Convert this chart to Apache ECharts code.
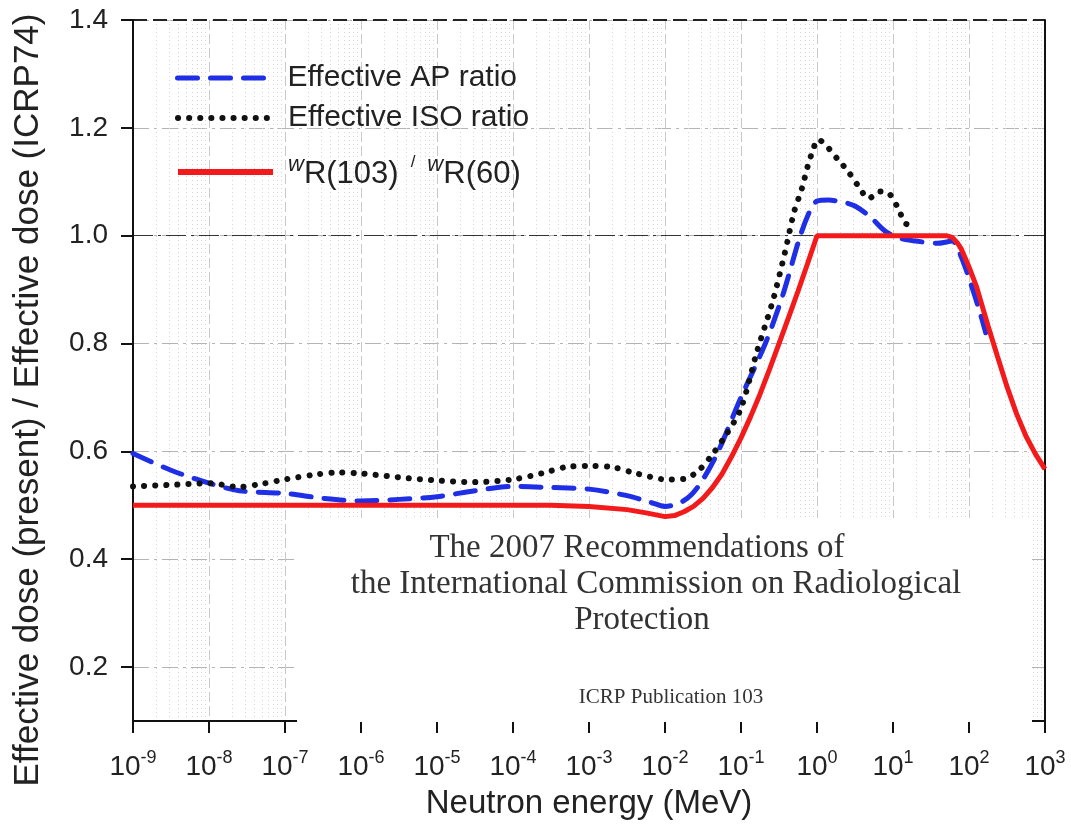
<!DOCTYPE html>
<html><head><meta charset="utf-8">
<script src="https://cdn.jsdelivr.net/npm/echarts@6/dist/echarts.min.js"></script>
<style>html,body{margin:0;padding:0;background:#fff}#c{width:1071px;height:825px}</style>
</head><body><div id="c"></div>
<script>
// x values are log10 of neutron energy in MeV
const apLogE  = [-9, -8.5, -8, -7.6, -7, -6.5, -6, -5.5, -5, -4.5, -4, -3.5, -3, -2.5, -2.2, -2, -1.8, -1.65, -1.5, -1.3, -1.0, -0.68, -0.45, -0.22, -0.08, 0, 0.15, 0.35, 0.5, 0.7, 0.9, 1.1, 1.3, 1.6, 1.78, 1.9, 2.05, 2.15, 2.22];
const apRatio = [0.596, 0.565, 0.541, 0.527, 0.522, 0.513, 0.508, 0.511, 0.516, 0.527, 0.535, 0.533, 0.530, 0.518, 0.506, 0.498, 0.505, 0.520, 0.548, 0.600, 0.700, 0.800, 0.890, 1.000, 1.050, 1.064, 1.066, 1.062, 1.055, 1.035, 1.008, 0.995, 0.990, 0.986, 0.990, 0.960, 0.900, 0.855, 0.820];

const isoLogE  = [-9, -8.5, -8, -7.6, -7.3, -7, -6.6, -6.3, -6, -5.5, -5, -4.5, -4, -3.6, -3.3, -3.0, -2.7, -2.4, -2.2, -2.0, -1.75, -1.57, -1.4, -1.2, -1.0, -0.79, -0.58, -0.42, -0.3, -0.2, -0.12, -0.05, 0.01, 0.29, 0.42, 0.55, 0.68, 0.83, 0.95, 1.08, 1.16, 1.28];
const isoRatio = [0.535, 0.538, 0.541, 0.534, 0.540, 0.548, 0.557, 0.561, 0.559, 0.552, 0.546, 0.543, 0.548, 0.560, 0.571, 0.573, 0.571, 0.560, 0.553, 0.548, 0.549, 0.563, 0.590, 0.630, 0.680, 0.785, 0.880, 0.970, 1.045, 1.087, 1.130, 1.160, 1.178, 1.139, 1.117, 1.091, 1.069, 1.082, 1.078, 1.047, 1.023, 1.019];

const wrLogE  = [-9, -8, -7, -6, -5, -4, -3.5, -3, -2.5, -2.25, -2, -1.875, -1.75, -1.625, -1.5, -1.375, -1.25, -1.125, -1, -0.875, -0.75, -0.625, -0.5, -0.375, -0.25, -0.125, 0, 0.5, 1, 1.5, 1.7, 1.78, 1.85, 1.9, 2, 2.1, 2.25, 2.375, 2.5, 2.625, 2.75, 2.875, 3];
const wrRatio = [0.5, 0.5, 0.5, 0.5, 0.5, 0.5, 0.5, 0.498, 0.492, 0.486, 0.479, 0.481, 0.488, 0.498, 0.513, 0.533, 0.558, 0.590, 0.625, 0.664, 0.706, 0.752, 0.800, 0.848, 0.897, 0.948, 1.0, 1.0, 1.0, 1.0, 1.0, 0.997, 0.986, 0.975, 0.942, 0.905, 0.833, 0.776, 0.720, 0.670, 0.628, 0.595, 0.567];

const seriesNames = ['Effective AP ratio', 'Effective ISO ratio', 'wR(103) / wR(60)'];
const yTicks = [0.2, 0.4, 0.6, 0.8, 1.0, 1.2, 1.4];
const xDecades = [-9, -8, -7, -6, -5, -4, -3, -2, -1, 0, 1, 2, 3];

// minor grid positions (2..9 x 10^d) in log units
const minorGrid = [];
for (let i = 0; i < xDecades.length - 1; i++) {
  for (let k = 2; k <= 9; k++) minorGrid.push({ xAxis: xDecades[i] + Math.log10(k) });
}

const pairs = (xs, ys) => xs.map((x, i) => [x, ys[i]]);
const SANS = '"Liberation Sans", Arial, sans-serif';
const SERIF = '"Liberation Serif", "Times New Roman", serif';

const legendBase = {
  left: 175, padding: 0, itemWidth: 95, itemHeight: 14,
  itemStyle: { opacity: 0 },
  textStyle: { fontSize: 30, fontFamily: SANS, color: '#222', padding: [0, 0, 0, 10], lineHeight: 32 }
};

const chart = echarts.init(document.getElementById('c'));
chart.setOption({
  animation: false,
  backgroundColor: '#fff',
  grid: { left: 133, right: 26, top: 20, bottom: 100 },
  legend: [
    Object.assign({}, legendBase, { data: [seriesNames[0]], top: 62, lineStyle: { width: 5 } }),
    Object.assign({}, legendBase, { data: [seriesNames[1]], top: 102, lineStyle: { width: 6 } }),
    Object.assign({}, legendBase, {
      data: [seriesNames[2]], top: 154, lineStyle: { width: 6 },
      formatter: () => '{w|w}{r|R(103)}{sl|/}{w|w}{r|R(60)}',
      textStyle: {
        fontSize: 30, fontFamily: SANS, color: '#222', padding: [0, 0, 0, 10],
        rich: {
          w: { fontSize: 22, fontStyle: 'italic', fontFamily: SANS, color: '#222', verticalAlign: 'top', lineHeight: 22 },
          r: { fontSize: 31, fontFamily: SANS, color: '#222', lineHeight: 36, verticalAlign: 'bottom' },
          sl: { fontSize: 17, fontFamily: SANS, color: '#222', verticalAlign: 'top', lineHeight: 20, padding: [0, 12, 0, 12] }
        }
      }
    })
  ],
  xAxis: {
    type: 'value', min: -9, max: 3, interval: 1,
    name: 'Neutron energy (MeV)', nameLocation: 'middle', nameGap: 66,
    nameTextStyle: { fontSize: 33, fontFamily: SANS, color: '#222' },
    axisLine: { onZero: false, lineStyle: { color: '#111', width: 2 } },
    axisTick: { inside: false, length: 12, lineStyle: { color: '#111', width: 2 } },
    axisLabel: {
      margin: 28,
      formatter: v => '{b|10}{s|' + Math.round(v) + '}',
      rich: {
        b: { fontSize: 28, fontFamily: SANS, color: '#222', lineHeight: 36 },
        s: { fontSize: 18, fontFamily: SANS, color: '#222', lineHeight: 22, verticalAlign: 'top' }
      }
    },
    splitLine: { show: true, lineStyle: { color: '#c8c8c8', width: 1, type: [10, 4] } }
  },
  yAxis: [{
    type: 'value', min: 0.1, max: 1.4,
    axisLine: { onZero: false, lineStyle: { color: '#111', width: 2 } },
    axisTick: { inside: false, length: 12, customValues: yTicks, lineStyle: { color: '#111', width: 2 } },
    axisLabel: { customValues: yTicks, margin: 25, fontSize: 28, fontFamily: SANS, color: '#222', formatter: v => v.toFixed(1) },
    splitLine: { show: true, lineStyle: { color: '#b4b4b4', width: 1, type: [16, 5, 3, 5] } }
  }, {
    type: 'value', min: 0.1, max: 1.4, position: 'right',
    axisLine: { show: true, onZero: false, lineStyle: { color: '#111', width: 2 } },
    axisTick: { show: false }, axisLabel: { show: false }, splitLine: { show: false }
  }],
  graphic: [
    { type: 'rect', shape: { x: 297, y: 518, width: 735, height: 204 }, style: { fill: '#fff' }, z: 1, silent: true },
    { type: 'text', x: 637, y: 548, z: 1, style: { text: 'The 2007 Recommendations of', font: '33px ' + SERIF, fill: '#333', align: 'center', verticalAlign: 'middle' } },
    { type: 'text', x: 656, y: 584, z: 1, style: { text: 'the International Commission on Radiological', font: '33px ' + SERIF, fill: '#333', align: 'center', verticalAlign: 'middle' } },
    { type: 'text', x: 642, y: 620, z: 1, style: { text: 'Protection', font: '33px ' + SERIF, fill: '#333', align: 'center', verticalAlign: 'middle' } },
    { type: 'text', x: 671, y: 697, z: 1, style: { text: 'ICRP Publication 103', font: '21px ' + SERIF, fill: '#333', align: 'center', verticalAlign: 'middle' } },
    { type: 'text', x: 28, y: 400, rotation: Math.PI / 2, z: 1, style: { text: 'Effective dose (present) / Effective dose (ICRP74)', font: '35px ' + SANS, fill: '#222', align: 'center', verticalAlign: 'middle' } }
  ],
  series: [
    {
      name: 'gridlines', type: 'line', data: [], silent: true,
      markLine: {
        silent: true, symbol: ['none', 'none'], z: 0, label: { show: false },
        lineStyle: { color: '#d6d6d6', width: 1, type: [1, 3] },
        data: minorGrid.concat([
          { yAxis: 1.0, lineStyle: { color: '#333', width: 1.2, type: [20, 5, 3, 5] } },
          { yAxis: 1.4, lineStyle: { color: '#222', width: 2, type: [14, 6] } }
        ])
      }
    },
    {
      name: seriesNames[0], type: 'line', data: pairs(apLogE, apRatio), symbol: 'none', smooth: 0.3,
      lineStyle: { color: '#1f2fe6', width: 5, type: [20, 13], cap: 'round' }, itemStyle: { color: '#1f2fe6' }
    },
    {
      name: seriesNames[1], type: 'line', data: pairs(isoLogE, isoRatio), symbol: 'none', smooth: 0.3,
      lineStyle: { color: '#111', width: 6, type: [0.1, 11], cap: 'round' }, itemStyle: { color: '#111' }
    },
    {
      name: seriesNames[2], type: 'line', data: pairs(wrLogE, wrRatio), symbol: 'none',
      lineStyle: { color: '#f21a1a', width: 5 }, itemStyle: { color: '#f21a1a' }
    }
  ]
});
</script></body></html>
